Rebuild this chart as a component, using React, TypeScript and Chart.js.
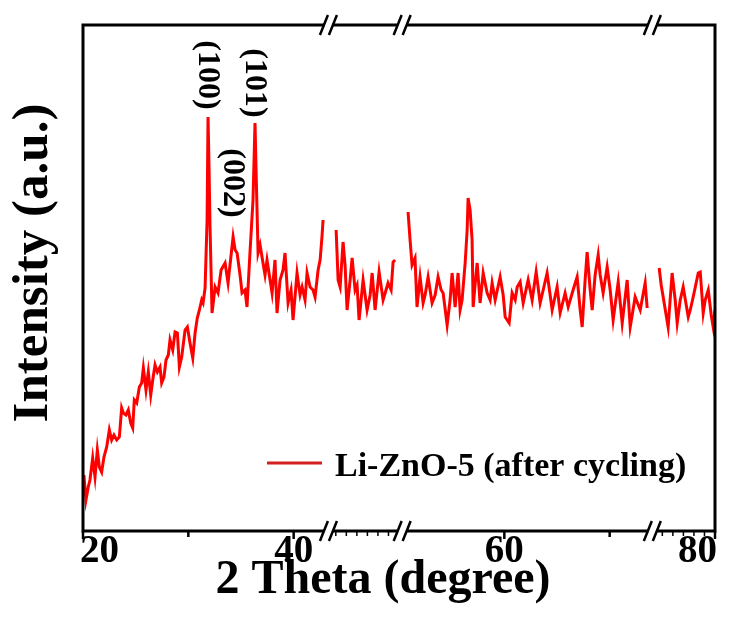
import { useEffect, useRef } from 'react';
import { Chart, registerables } from 'chart.js';

Chart.register(...registerables);

// 2θ (degree), intensity (a.u.) pairs for each measured segment
const segment1: [number, number][] = [
  [20.09, 56], [20.28, 31], [20.5, 44], [20.66, 51], [20.92, 73], [21.14, 54], [21.36, 81],
  [21.55, 64], [21.77, 59], [21.99, 74], [22.25, 84], [22.5, 101], [22.72, 91], [22.94, 96],
  [23.2, 91], [23.45, 94], [23.67, 123], [23.83, 118], [24.08, 116], [24.3, 121], [24.53, 108],
  [24.72, 103], [24.87, 131], [25.1, 128], [25.35, 144], [25.57, 148], [25.73, 163], [25.98, 141],
  [26.2, 159], [26.43, 136], [26.62, 151], [26.84, 166], [27.06, 159], [27.31, 164], [27.47, 148],
  [27.69, 154], [27.88, 171], [28.1, 176], [28.26, 191], [28.52, 181], [28.74, 199], [28.96, 198],
  [29.15, 164], [29.37, 174], [29.69, 201], [29.91, 204], [30.16, 188], [30.42, 173], [30.64, 198],
  [30.85, 213], [31.05, 221], [31.27, 231], [31.4, 228], [31.59, 243], [31.78, 311], [31.87, 414],
  [31.97, 361], [32.06, 304], [32.25, 218], [32.54, 244], [32.82, 238], [33.11, 261], [33.49, 268],
  [33.77, 248], [34.06, 276], [34.25, 294], [34.44, 281], [34.63, 278], [34.91, 256], [35.1, 238],
  [35.38, 241], [35.57, 224], [35.85, 278], [36.14, 331], [36.33, 408], [36.43, 361], [36.62, 278],
  [36.81, 286], [37.09, 268], [37.28, 256], [37.47, 271], [37.76, 251], [37.95, 238], [38.23, 271],
  [38.42, 218], [38.71, 251], [38.99, 261], [39.18, 278], [39.47, 228], [39.75, 241], [39.94, 211],
  [40.32, 258], [40.61, 236], [40.8, 244], [41.08, 231], [41.27, 258], [41.56, 244], [41.84, 241],
  [42.03, 234], [42.32, 261], [42.51, 271], [42.7, 296], [42.79, 311],
];
const segment2: [number, number][] = [
  [44.03, 301], [44.22, 251], [44.41, 244], [44.69, 289], [44.88, 266], [45.07, 221], [45.36, 251],
  [45.55, 273], [45.83, 241], [46.02, 246], [46.21, 211], [46.59, 251], [46.97, 221], [47.26, 236],
  [47.45, 258], [47.73, 221], [48.11, 259], [48.49, 231], [48.77, 241], [48.96, 248], [49.25, 241],
  [49.44, 269], [49.63, 271],
];
const segment3: [number, number][] = [
  [50.86, 319], [51.05, 291], [51.24, 266], [51.52, 273], [51.71, 224], [52.0, 254], [52.29, 228],
  [52.48, 236], [52.76, 254], [53.14, 228], [53.43, 236], [53.71, 254], [54.0, 241], [54.19, 238],
  [54.57, 206], [54.85, 231], [55.04, 258], [55.33, 224], [55.61, 258], [55.8, 221], [55.99, 231],
  [56.28, 268], [56.47, 301], [56.56, 333], [56.75, 321], [56.94, 291], [57.04, 224], [57.22, 246],
  [57.42, 268], [57.7, 228], [57.99, 258], [58.37, 238], [58.65, 231], [58.84, 248], [59.13, 231],
  [59.6, 254], [59.89, 236], [60.08, 214], [60.46, 208], [60.74, 238], [61.03, 231], [61.22, 244],
  [61.5, 249], [61.79, 228], [62.26, 251], [62.64, 231], [63.02, 259], [63.4, 228], [63.69, 241],
  [64.06, 258], [64.35, 236], [64.54, 221], [65.01, 244], [65.3, 218], [65.77, 238], [66.06, 224],
  [66.53, 241], [66.91, 254], [67.2, 221], [67.39, 204], [67.67, 251], [67.86, 279], [68.15, 241],
  [68.34, 221], [68.62, 256], [68.91, 276], [69.1, 256], [69.38, 238], [69.76, 264], [70.05, 241],
  [70.33, 211], [70.81, 249], [71.19, 208], [71.66, 251], [71.95, 204], [72.42, 234], [72.9, 221],
  [73.37, 248], [73.56, 223],
];
const segment4: [number, number][] = [
  [74.7, 263], [74.89, 246], [75.08, 234], [75.55, 204], [75.93, 258], [76.22, 231], [76.41, 208],
  [76.7, 231], [76.98, 244], [77.46, 214], [77.65, 221], [77.93, 234], [78.41, 258], [78.6, 259],
  [78.88, 218], [79.07, 231], [79.36, 241], [79.64, 216], [79.83, 204], [80.0, 221],
];

const seriesLabel = 'Li-ZnO-5 (after cycling)';
const xTitle = '2 Theta (degree)';
const yTitle = 'Intensity (a.u.)';
const majorTicks = [20, 40, 60, 80];
const minorTicks = [30, 70];
const fineTicks = [44, 45, 46, 47, 48, 49, 75, 76, 77, 78, 79];
const axisBreaks = [43.3, 50.3, 74.05];
const peakNames = ['(100)', '(002)', '(101)'];
const peakTheta = [31.87, 34.25, 36.33];
const peakLabelLevel = [456, 348, 448];

const FONT = '"Liberation Serif", "Times New Roman", serif';

const decorPlugin = {
  id: 'decor',
  afterDraw(chart: any) {
    const { ctx, chartArea: a } = chart;
    const x = chart.scales.x;
    const y = chart.scales.y;
    ctx.save();
    // frame
    ctx.strokeStyle = '#000';
    ctx.lineWidth = 3;
    ctx.lineJoin = 'miter';
    ctx.beginPath();
    ctx.moveTo(a.left, a.top);
    ctx.lineTo(a.right, a.top);
    ctx.lineTo(a.right, a.bottom);
    ctx.lineTo(a.left, a.bottom);
    ctx.closePath();
    ctx.stroke();

    // ticks (outward, bottom)
    const drawTick = (v: number, len: number, w: number) => {
      const px = x.getPixelForValue(v);
      ctx.lineWidth = w;
      ctx.beginPath();
      ctx.moveTo(px, a.bottom);
      ctx.lineTo(px, a.bottom + len);
      ctx.stroke();
    };
    majorTicks.forEach((v) => drawTick(v, 8, 2.5));
    minorTicks.forEach((v) => drawTick(v, 6, 2.5));
    fineTicks.forEach((v) => drawTick(v, 5, 1.5));

    // axis breaks
    axisBreaks.forEach((bv) => {
      const px = x.getPixelForValue(bv);
      [a.top, a.bottom].forEach((yy) => {
        ctx.fillStyle = '#fff';
        ctx.fillRect(px - 4, yy - 3, 8, 6);
        ctx.strokeStyle = '#000';
        ctx.lineWidth = 2.5;
        ctx.beginPath();
        [-4.5, 4.5].forEach((off) => {
          ctx.moveTo(px + off - 4, yy + 10);
          ctx.lineTo(px + off + 4, yy - 10);
        });
        ctx.stroke();
      });
    });

    // tick labels
    ctx.fillStyle = '#000';
    ctx.font = `bold 39px ${FONT}`;
    ctx.textBaseline = 'alphabetic';
    majorTicks.forEach((v, i) => {
      const px = x.getPixelForValue(v);
      ctx.textAlign = i === 0 ? 'left' : i === majorTicks.length - 1 ? 'right' : 'center';
      ctx.fillText(String(v), i === 0 ? px - 3 : i === majorTicks.length - 1 ? px + 2 : px, a.bottom + 31);
    });

    // x title
    ctx.font = `bold 48px ${FONT}`;
    ctx.textAlign = 'center';
    ctx.fillText(xTitle, (a.left + a.right) / 2 - 16, a.bottom + 62);

    // y title
    ctx.save();
    ctx.translate(a.left - 36, (a.top + a.bottom) / 2 - 15);
    ctx.rotate(-Math.PI / 2);
    ctx.font = `bold 51px ${FONT}`;
    ctx.textAlign = 'center';
    ctx.fillText(yTitle, 0, 0);
    ctx.restore();

    // peak labels
    ctx.font = `bold 32px ${FONT}`;
    peakNames.forEach((name, i) => {
      const px = x.getPixelForValue(peakTheta[i]);
      const py = y.getPixelForValue(peakLabelLevel[i]);
      ctx.save();
      ctx.translate(px - 1, py);
      ctx.rotate(Math.PI / 2);
      ctx.textAlign = 'center';
      ctx.textBaseline = 'middle';
      ctx.fillText(name, 0, 0);
      ctx.restore();
    });

    // legend
    ctx.strokeStyle = '#d42020';
    ctx.lineWidth = 3;
    ctx.beginPath();
    ctx.moveTo(267, 463);
    ctx.lineTo(322, 463);
    ctx.stroke();
    ctx.fillStyle = '#000';
    ctx.font = `bold 34px ${FONT}`;
    ctx.textAlign = 'left';
    ctx.textBaseline = 'alphabetic';
    ctx.fillText(seriesLabel, 335, 476);

    ctx.restore();
  },
};

export default function App() {
  const ref = useRef<HTMLCanvasElement | null>(null);
  useEffect(() => {
    if (!ref.current) return;
    const toPts = (s: [number, number][]) => s.map(([t, v]) => ({ x: t, y: v }));
    const data: any[] = [
      ...toPts(segment1),
      { x: axisBreaks[0], y: null },
      ...toPts(segment2),
      { x: axisBreaks[1], y: null },
      ...toPts(segment3),
      { x: axisBreaks[2], y: null },
      ...toPts(segment4),
    ];
    const chart = new Chart(ref.current, {
      type: 'line',
      data: {
        datasets: [
          {
            label: seriesLabel,
            data,
            borderColor: '#ff0000',
            borderWidth: 3,
            pointRadius: 0,
            tension: 0,
            spanGaps: false,
            fill: false,
          },
        ],
      },
      options: {
        animation: false,
        responsive: false,
        layout: { padding: { left: 83, right: 19, top: 25, bottom: 101 } },
        plugins: { legend: { display: false }, tooltip: { enabled: false } },
        scales: {
          x: { type: 'linear', min: 20, max: 80, display: false },
          y: { type: 'linear', min: 0, max: 506, display: false },
        },
      },
      plugins: [decorPlugin],
    });
    return () => chart.destroy();
  }, []);
  return (
    <div style={{ position: 'absolute', left: 0, top: 0, width: 734, height: 632, background: '#fff' }}>
      <canvas ref={ref} width={734} height={632} />
    </div>
  );
}
